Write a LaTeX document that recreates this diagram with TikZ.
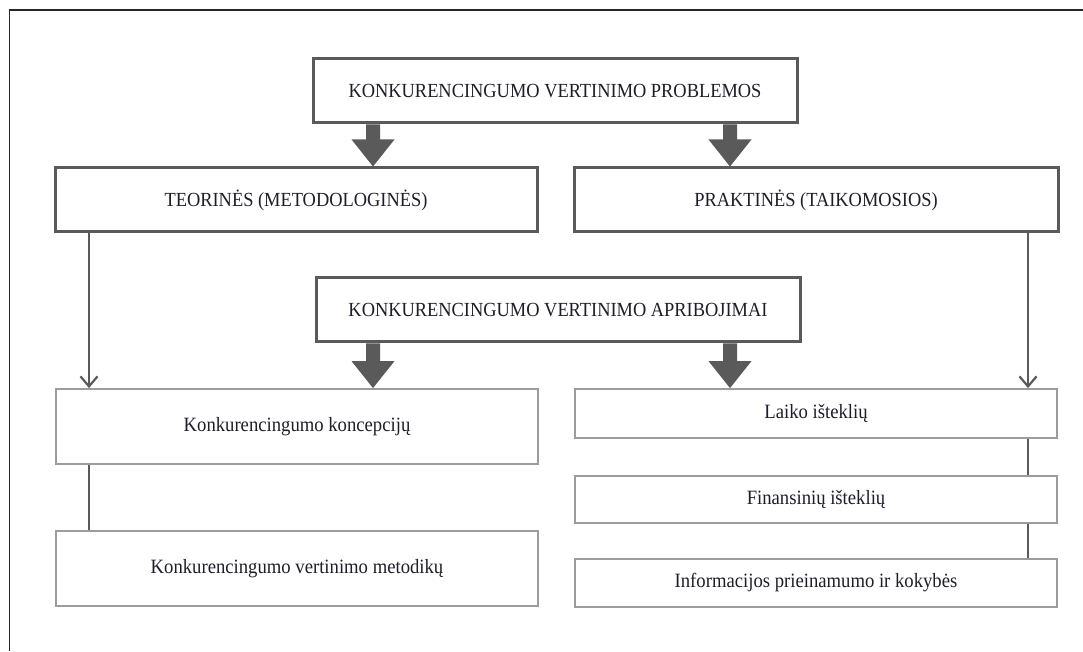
\documentclass[tikz,border=0pt]{standalone}
\usepackage{fontspec}
\setmainfont[FakeStretch=0.92]{Liberation Serif}
\usetikzlibrary{arrows.meta,calc}
\definecolor{edge}{HTML}{5A5A5A}
\definecolor{lightedge}{HTML}{9C9C9C}
\definecolor{txt}{HTML}{1E1E2A}
\newcommand\fatarrow[3]{%
  \path (#1,0 |- #2.south) coordinate (fa) (#1,0 |- #3.north) coordinate (fb);
  \fill[fatfill] ($(fa)+(-7,0)$) -- ($(fb)+(-7,27)$) -- ($(fb)+(-21.5,27)$) -- (fb)
    -- ($(fb)+(21.5,27)$) -- ($(fb)+(7,27)$) -- ($(fa)+(7,0)$) -- cycle;}
\begin{document}
\begin{tikzpicture}[x=1pt,y=1pt,
  topbox/.style={draw=edge, line width=3pt, fill=white, inner sep=0pt, text=txt,
    minimum width=484pt, minimum height=64pt, font=\fontsize{20}{22}\selectfont},
  lowbox/.style={draw=lightedge, line width=1.8pt, fill=white, inner sep=0pt, text=txt,
    minimum width=482pt, font=\fontsize{20.3}{22}\selectfont},
  link/.style={draw=edge, line width=2.8pt},
  thinarrow/.style={draw=edge, line width=2.2pt, -{Straight Barb[length=10pt,width=17pt]}},
  fatfill/.style={fill=edge}]
\useasboundingbox (0,0) rectangle (1083,651);
\draw[line width=1.5pt, color=black!85] (9.5,0) -- (9.5,641) -- (1083,641);

\node[topbox] (b1) at (555,560) {KONKURENCINGUMO VERTINIMO PROBLEMOS};
\node[topbox, minimum width=482pt] (teor) at (296,451) {TEORINĖS (METODOLOGINĖS)};
\node[topbox] (prakt) at (816,451) {PRAKTINĖS (TAIKOMOSIOS)};
\node[topbox] (aprib) at (558,341) {KONKURENCINGUMO VERTINIMO APRIBOJIMAI};

\node[lowbox, minimum height=75pt] (konc) at (297,224.5) {Konkurencingumo koncepcijų};
\node[lowbox, minimum height=75pt] (metod) at (297,82.5) {Konkurencingumo vertinimo metodikų};
\node[lowbox, minimum height=49pt] (laiko) at (816,237.5) {Laiko išteklių};
\node[lowbox, minimum height=47pt] (fin) at (816,151.5) {Finansinių išteklių};
\node[lowbox, minimum height=48pt] (info) at (816,68) {Informacijos prieinamumo ir kokybės};

\fatarrow{373}{b1}{teor}
\fatarrow{730}{b1}{prakt}
\fatarrow{373}{aprib}{konc}
\fatarrow{730}{aprib}{laiko}

\draw[thinarrow] (89,0 |- teor.south) -- (89,0 |- konc.north);
\draw[thinarrow] (1028,0 |- prakt.south) -- (1028,0 |- laiko.north);

\draw[link] (89,0 |- konc.south) -- (89,0 |- metod.north);
\draw[link] (1028,0 |- laiko.south) -- (1028,0 |- fin.north);
\draw[link] (1028,0 |- fin.south) -- (1028,0 |- info.north);
\end{tikzpicture}
\end{document}
